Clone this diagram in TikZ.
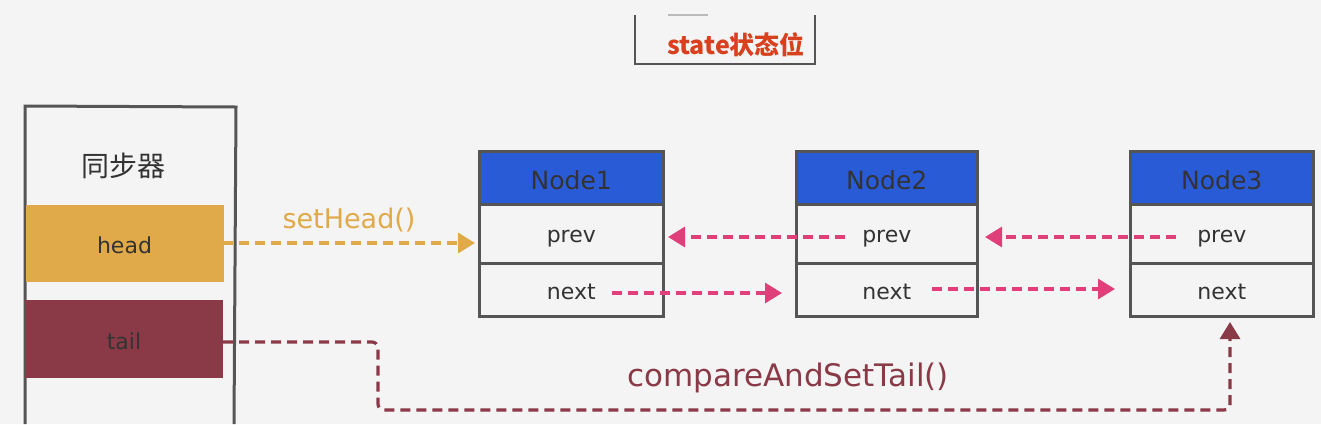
\documentclass[tikz,border=0pt]{standalone}
\usepackage{fontspec}
\setmainfont{DejaVu Sans}
\newfontfamily\cjk{Noto Sans CJK SC}
\usetikzlibrary{arrows.meta}
\definecolor{bgc}{HTML}{F4F4F4}
\definecolor{headc}{HTML}{E0A94A}
\definecolor{tailc}{HTML}{8A3A47}
\definecolor{nodeblue}{HTML}{2A5BD6}
\definecolor{pinkc}{HTML}{E0407A}
\definecolor{framec}{HTML}{555555}
\definecolor{statered}{HTML}{D8401E}
\tikzset{
  frame/.style={draw=framec, line width=3pt},
  cell/.style={draw=framec, line width=2.6pt, fill=bgc, inner sep=0pt, anchor=north west},
  txt/.style={font=\fontsize{22}{26}\selectfont, text=black!80},
  hdr/.style={font=\fontsize{25}{30}\selectfont, text=black!80},
  darr/.style={dashed, dash pattern=on 10pt off 6pt, line width=3.2pt, -{Triangle[length=17pt,width=20pt]}},
}
\begin{document}
\begin{tikzpicture}[x=1pt,y=-1pt]
\fill[bgc] (0,0) rectangle (1321,424);
\useasboundingbox (0,0) rectangle (1321,424);
% state box
\draw[framec, line width=2.6pt] (635,15) -- (635,64) -- (815,64) -- (815,15);
\draw[framec!40, line width=1.5pt] (668,15) -- (708,15);
\node[font=\cjk\bfseries\fontsize{25}{30}\selectfont, text=statered] (state) at (736,45) {state状态位};
% synchronizer box
\draw[frame] (25,424) -- (25,106) -- (236,107) -- (234,424);
\node[font=\cjk\fontsize{28}{32}\selectfont, text=black!80] (sync) at (123,166) {同步器};
\node[fill=headc, minimum width=198pt, minimum height=77pt, inner sep=0pt] (head) at (124.5,243.5) {};
\node[txt] (headt) at ([yshift=-2pt]head.center) {head};
\node[fill=tailc, minimum width=198pt, minimum height=78pt, inner sep=0pt] (tail) at (124,339) {};
\node[txt] (tailt) at ([yshift=-2pt]tail.center) {tail};
% linked nodes
\foreach \n/\x/\w in {1/478/184, 2/795/181, 3/1129/183}{
  \node[cell, fill=nodeblue, minimum width=\w pt, minimum height=53pt] (n\n) at (\x,150) {};
  \node[hdr] (n\n t) at ([yshift=-2pt]n\n.center) {Node\n};
  \node[cell, minimum width=\w pt, minimum height=59pt] (p\n) at (\x,203) {};
  \node[txt] (p\n t) at ([yshift=-5pt]p\n.center) {prev};
  \node[cell, minimum width=\w pt, minimum height=53pt] (x\n) at (\x,262) {};
  \node[txt] (x\n t) at ([yshift=-2pt]x\n.center) {next};
}
% arrows
\coordinate (h0) at (223,243);
\coordinate (h1) at (475,243);
\draw[darr, headc] (h0) -- node[above=6pt, font=\fontsize{27}{32}\selectfont, text=headc] (sh) {setHead()} (h1);
\coordinate (a0) at (845,237); \coordinate (a1) at (668,237);
\draw[darr, pinkc] (a0) -- (a1);
\coordinate (b0) at (1176,237); \coordinate (b1) at (985,237);
\draw[darr, pinkc] (b0) -- (b1);
\coordinate (c0) at (612,293); \coordinate (c1) at (782,293);
\draw[darr, pinkc] (c0) -- (c1);
\coordinate (d0) at (932,289); \coordinate (d1) at (1115,289);
\draw[darr, pinkc] (d0) -- (d1);
\coordinate (t0) at (223,342);
\coordinate (t3) at (1230,322);
\draw[darr, tailc, rounded corners=6pt] (t0) -- (378,342) -- (378,410) -- (1230,410) -- (t3);
\node[font=\fontsize{31}{36}\selectfont, text=tailc] (cas) at (788,378) {compareAndSetTail()};
\end{tikzpicture}
\end{document}
